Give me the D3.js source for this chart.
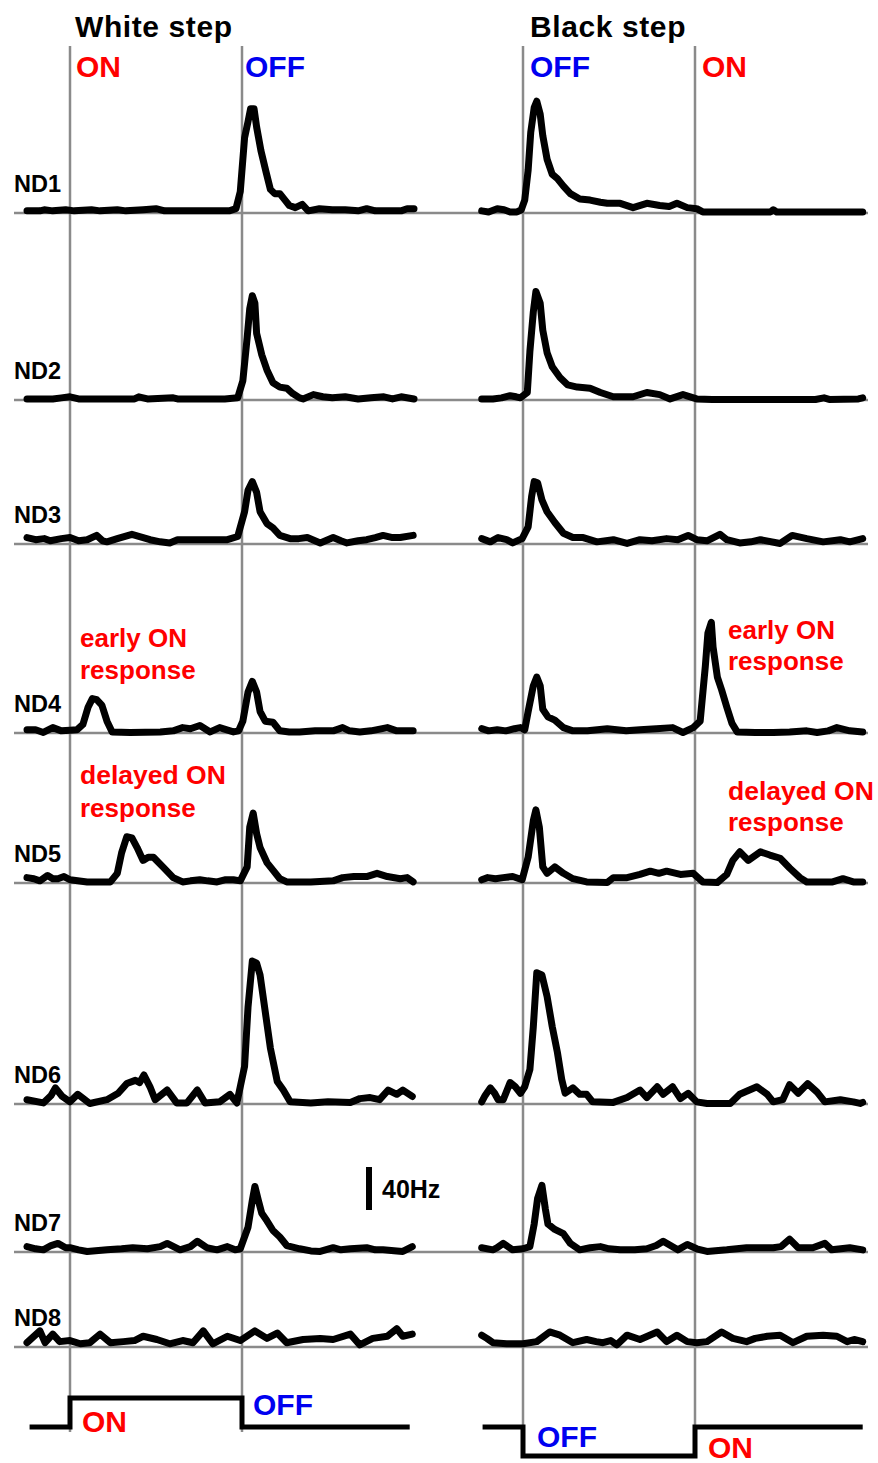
<!DOCTYPE html>
<html>
<head>
<meta charset="utf-8">
<script src="https://cdn.jsdelivr.net/npm/d3@7"></script>
<style>
  body { margin: 0; background: #fff; }
  text { font-family: "Liberation Sans", Arial, Helvetica, sans-serif; font-weight: bold; }
</style>
</head>
<body>
<svg id="chart" width="878" height="1463"></svg>
<script>
// Firing rate (Hz) vs time (s) after step onset; step lasts 0–2 s.
const rowLabels = ["ND1", "ND2", "ND3", "ND4", "ND5", "ND6", "ND7", "ND8"];

// White step (ON at 0 s, OFF at 2 s): [time s, rate Hz]
const whiteND1 = [[-0.5,2],[-0.35,2],[-0.3,3],[-0.2,2],[-0.05,3],[0.05,2],[0.25,3],[0.35,2],[0.55,3],[0.65,2],[0.85,3],[1.0,4],[1.1,2],[1.3,2],[1.6,2],[1.85,2],[1.93,4],[1.98,20],[2.03,70],[2.07,85],[2.1,97],[2.14,97],[2.17,80],[2.22,58],[2.28,38],[2.33,22],[2.38,18],[2.44,18],[2.5,12],[2.55,7],[2.62,5],[2.7,8],[2.77,2],[2.9,4],[3.05,3],[3.2,3],[3.35,2],[3.45,4],[3.55,2],[3.7,2],[3.85,2],[3.92,4],[4.0,4]];
const whiteND2 = [[-0.5,1],[-0.2,1],[-0.1,2],[0,3],[0.1,1],[0.5,1],[0.75,1],[0.8,3],[0.9,1],[1.2,2],[1.25,1],[1.5,1],[1.8,1],[1.95,2],[2.01,18],[2.06,58],[2.09,85],[2.12,97],[2.15,90],[2.17,62],[2.23,42],[2.29,28],[2.36,16],[2.44,12],[2.52,11],[2.59,6],[2.67,2],[2.71,1],[2.83,5],[2.94,3],[3.05,2],[3.2,3],[3.35,1],[3.5,2],[3.65,3],[3.75,1],[3.85,3],[4.0,1]];
const whiteND3 = [[-0.5,6],[-0.4,4],[-0.3,5],[-0.23,3],[-0.1,5],[0,6],[0.1,3],[0.2,4],[0.31,8],[0.38,3],[0.43,2],[0.55,5],[0.72,9],[0.85,6],[0.93,4],[1.05,2],[1.16,1],[1.25,4],[1.36,4],[1.5,4],[1.65,4],[1.83,4],[1.95,7],[2.03,30],[2.07,50],[2.12,58],[2.17,48],[2.21,30],[2.29,19],[2.36,15],[2.44,8],[2.56,5],[2.66,5],[2.76,6],[2.91,1],[3.06,6],[3.15,3],[3.22,1],[3.35,3],[3.45,4],[3.55,6],[3.64,8],[3.75,6],[3.84,6],[3.99,8]];
const whiteND4 = [[-0.5,3],[-0.4,3],[-0.31,0.5],[-0.2,5],[-0.1,2],[0,2.5],[0.08,3],[0.15,8],[0.21,24],[0.26,32],[0.31,31],[0.37,26],[0.43,11],[0.49,1],[0.7,0.5],[1.05,1],[1.2,2],[1.31,5],[1.4,4],[1.51,7],[1.63,1],[1.74,5],[1.9,1],[1.96,2],[2.01,11],[2.07,38],[2.12,48],[2.17,38],[2.21,20],[2.27,11],[2.36,10],[2.44,2],[2.55,1],[2.67,1],[2.85,2],[3.06,2],[3.17,5],[3.25,2],[3.37,1],[3.5,2],[3.69,5],[3.8,2],[3.99,2]];
const whiteND5 = [[-0.5,5],[-0.42,4],[-0.35,2],[-0.26,7],[-0.2,4],[-0.14,4],[-0.07,6],[0,3],[0.2,1],[0.47,1],[0.55,9],[0.6,28],[0.66,43],[0.72,42],[0.78,33],[0.85,21],[0.91,24],[0.97,24],[1.08,15],[1.2,5],[1.31,1],[1.4,2],[1.51,3],[1.6,2],[1.71,1],[1.8,3],[1.9,3],[1.98,2],[2.06,15],[2.09,52],[2.13,65],[2.17,46],[2.21,33],[2.29,19],[2.36,12],[2.44,4],[2.52,1],[2.8,1],[3.06,2],[3.17,5],[3.3,6],[3.45,6],[3.57,9],[3.69,6],[3.84,4],[3.92,5],[3.99,1]];
const whiteND6 = [[-0.5,4],[-0.31,1],[-0.22,8],[-0.17,15],[-0.09,7],[0,2],[0.09,9],[0.23,0.5],[0.43,4],[0.56,10],[0.66,19],[0.76,22],[0.81,20],[0.86,27],[0.93,16],[0.99,4],[1.13,13],[1.24,1],[1.36,1],[1.48,13],[1.57,1],[1.74,2],[1.86,9],[1.94,1],[2.03,35],[2.07,90],[2.12,133],[2.17,131],[2.21,120],[2.27,86],[2.33,52],[2.41,21],[2.48,13],[2.56,2],[2.8,1],[3.0,2],[3.26,1.5],[3.37,5],[3.49,6],[3.6,4],[3.7,13],[3.8,9],[3.87,13],[3.98,7]];
const whiteND7 = [[-0.5,5],[-0.4,3],[-0.31,2],[-0.22,6],[-0.14,8],[-0.05,4],[0,4],[0.1,2],[0.2,0.5],[0.43,2],[0.6,3],[0.73,4],[0.9,3],[1.05,5],[1.13,8],[1.28,2],[1.4,5],[1.48,10],[1.59,4],[1.71,2],[1.83,5],[1.92,2],[1.98,3],[2.07,23],[2.12,48],[2.15,61],[2.19,48],[2.23,36],[2.29,29],[2.36,20],[2.44,14],[2.52,6],[2.67,3],[2.8,1],[2.91,0.5],[3.06,4],[3.15,2],[3.26,3],[3.45,4],[3.55,2],[3.64,2],[3.8,1],[3.87,0.5],[3.98,5]];
const whiteND8 = [[-0.5,4],[-0.35,15],[-0.29,4],[-0.2,12],[-0.12,5],[0,6],[0.12,3],[0.23,4],[0.35,12],[0.47,4],[0.62,5],[0.75,6],[0.85,10],[1.01,7],[1.16,3],[1.31,6],[1.43,4],[1.55,15],[1.66,3],[1.83,10],[1.98,6],[2.15,15],[2.29,8],[2.41,13],[2.52,4],[2.71,7],[2.91,8],[3.06,7],[3.26,12],[3.37,2],[3.52,8],[3.69,10],[3.8,17],[3.87,10],[3.98,12]];

// Black step (OFF at 0 s, ON at 2 s): [time s, rate Hz]
const blackND1 = [[-0.48,2],[-0.4,1],[-0.3,4],[-0.22,3],[-0.15,1],[-0.07,1],[-0.02,3],[0.02,12],[0.06,40],[0.09,75],[0.13,98],[0.16,104],[0.2,92],[0.23,72],[0.28,50],[0.34,36],[0.4,32],[0.47,25],[0.55,18],[0.66,13],[0.78,12],[0.9,10],[0.98,9],[1.13,9],[1.28,5],[1.44,9],[1.59,7],[1.7,6],[1.79,9],[1.91,5],[2.02,4],[2.09,1],[2.3,1],[2.6,1],[2.88,1],[2.91,3],[2.95,1],[3.5,1],[3.95,1]];
const blackND2 = [[-0.48,1],[-0.35,1],[-0.25,2],[-0.15,4],[-0.08,3],[-0.03,2],[0.05,7],[0.08,45],[0.12,82],[0.15,101],[0.2,90],[0.23,65],[0.28,44],[0.34,31],[0.43,21],[0.52,14],[0.63,12],[0.78,11],[0.9,7],[1.05,3],[1.28,3],[1.44,7],[1.59,5],[1.71,1],[1.86,5],[2.02,1],[2.2,0.5],[2.8,0.5],[3.4,0.5],[3.5,2],[3.56,0.5],[3.9,1],[3.95,2]];
const blackND3 = [[-0.48,5],[-0.38,2],[-0.29,6],[-0.19,4],[-0.12,1],[-0.01,5],[0.06,16],[0.1,44],[0.13,58],[0.17,57],[0.22,41],[0.28,30],[0.37,20],[0.47,10],[0.58,6],[0.7,6],[0.86,2],[1.05,4],[1.21,0.5],[1.36,4],[1.5,3],[1.67,5],[1.8,4],[1.92,8],[2.02,4],[2.14,3],[2.29,9],[2.37,4],[2.52,1],[2.65,2],[2.76,4],[2.99,0.5],[3.13,8],[3.3,5],[3.49,2],[3.69,4],[3.8,2],[3.95,5]];
const blackND4 = [[-0.48,4],[-0.4,2],[-0.3,3],[-0.2,2],[-0.1,4],[-0.03,5],[0.02,3],[0.06,20],[0.12,44],[0.16,52],[0.2,44],[0.23,22],[0.29,15],[0.37,12],[0.47,5],[0.58,2],[0.75,2],[0.98,4],[1.2,2],[1.36,3],[1.55,4],[1.74,5],[1.86,0.5],[1.98,5],[2.06,11],[2.12,62],[2.15,93],[2.19,103],[2.21,80],[2.26,52],[2.31,40],[2.37,24],[2.43,9],[2.49,1],[2.7,0.5],[2.91,0.5],[3.1,1],[3.3,2],[3.42,0.5],[3.55,2],[3.65,5],[3.8,2],[3.95,1]];
const blackND5 = [[-0.48,3],[-0.41,5],[-0.32,4],[-0.23,5],[-0.12,6],[-0.01,3],[0.06,24],[0.12,58],[0.15,68],[0.19,52],[0.23,15],[0.28,9],[0.37,15],[0.47,9],[0.58,4],[0.74,1],[0.98,0.5],[1.05,5],[1.21,5],[1.36,8],[1.48,11],[1.58,9],[1.67,11],[1.83,8],[1.98,9],[2.09,1],[2.26,0.5],[2.37,8],[2.44,21],[2.52,29],[2.62,21],[2.76,29],[2.87,26],[2.99,23],[3.1,14],[3.22,5],[3.3,1],[3.6,1],[3.72,4],[3.84,1],[3.95,1]];
const blackND6 = [[-0.48,2],[-0.44,8],[-0.38,15],[-0.33,10],[-0.29,4],[-0.23,4],[-0.15,20],[-0.09,16],[-0.03,10],[0.02,16],[0.08,32],[0.12,72],[0.16,122],[0.22,120],[0.28,100],[0.34,72],[0.4,48],[0.45,23],[0.49,10],[0.58,15],[0.66,9],[0.74,9],[0.81,2],[1.05,1.5],[1.21,6],[1.36,13],[1.44,6],[1.56,16],[1.63,9],[1.74,16],[1.83,5],[1.92,10],[2.02,2],[2.14,0.5],[2.41,0.5],[2.52,9],[2.72,16],[2.84,9],[2.91,2],[3.02,4],[3.1,18],[3.2,10],[3.31,19],[3.42,11],[3.51,2],[3.69,4],[3.84,2],[3.92,0.5],[3.95,1.5]];
const blackND7 = [[-0.48,4],[-0.35,2],[-0.3,4],[-0.23,8],[-0.12,2],[0,3],[0.08,5],[0.13,26],[0.17,50],[0.22,62],[0.26,40],[0.29,26],[0.37,21],[0.47,17],[0.55,8],[0.66,2],[0.78,4],[0.9,5],[1.0,3],[1.13,2],[1.3,2],[1.44,3],[1.55,6],[1.63,10],[1.8,2],[1.91,7],[2.02,3],[2.14,0.5],[2.37,2],[2.6,4],[2.91,4],[3.0,5],[3.1,12],[3.2,4],[3.37,4],[3.51,8],[3.59,2],[3.8,4],[3.95,2]];
const blackND8 = [[-0.48,11],[-0.42,8],[-0.35,4],[-0.19,3],[0,3],[0.16,5],[0.31,14],[0.43,11],[0.58,4],[0.74,7],[0.85,5],[0.93,4],[1.02,6],[1.09,2],[1.21,11],[1.36,7],[1.56,14],[1.67,5],[1.79,11],[1.91,5],[2.02,4],[2.14,5],[2.31,14],[2.44,8],[2.6,5],[2.7,8],[2.84,10],[2.99,11],[3.14,4],[3.3,10],[3.49,11],[3.65,10],[3.77,5],[3.85,7],[3.95,5]];

// Stimulus timecourse: light level relative to background
const stimTimes  = [-0.47, 0, 0, 2, 2, 3.95];
const whiteLevel = [0, 0, 1, 1, 0, 0];
const blackLevel = [0, 0, -1, -1, 0, 0];

const scaleBarHz = 40;

// Layout
const rowBaselines = [213, 400, 544, 733, 883, 1104, 1252, 1347];
const stimBaseline = 1427;

const whiteTraces = [whiteND1, whiteND2, whiteND3, whiteND4, whiteND5, whiteND6, whiteND7, whiteND8];
const blackTraces = [blackND1, blackND2, blackND3, blackND4, blackND5, blackND6, blackND7, blackND8];
const rows = rowLabels.map((label, i) => ({ label, white: whiteTraces[i], black: blackTraces[i], y: rowBaselines[i] }));

const svg = d3.select("#chart");
const RED = "#ff0000", BLUE = "#0000f0", GRID = "#8a8a8a";

const xWhite = d3.scaleLinear().domain([0, 2]).range([70, 242]);
const xBlack = d3.scaleLinear().domain([0, 2]).range([523, 695]);
const yRate = d3.scaleLinear().domain([0, 40]).range([0, -43]);
const yStim = d3.scaleLinear().domain([0, 1]).range([0, -29]);

// Horizontal zero lines per row
svg.append("g").selectAll("line").data(rows).join("line")
  .attr("x1", 14).attr("x2", 868)
  .attr("y1", d => d.y).attr("y2", d => d.y)
  .attr("stroke", GRID).attr("stroke-width", 2.5);

// Vertical step-transition lines
const vlines = [
  { x: xWhite(0), y2: 1432 }, { x: xWhite(2), y2: 1432 },
  { x: xBlack(0), y2: 1455 }, { x: xBlack(2), y2: 1455 }
];
svg.append("g").selectAll("line").data(vlines).join("line")
  .attr("x1", d => d.x).attr("x2", d => d.x)
  .attr("y1", 46).attr("y2", d => d.y2)
  .attr("stroke", GRID).attr("stroke-width", 2.5);

// Rate traces
function drawTraces(key, x) {
  const line = d3.line().x(d => x(d[0])).y(d => yRate(d[1]));
  svg.append("g").selectAll("path").data(rows).join("path")
    .attr("transform", d => `translate(0,${d.y})`)
    .attr("d", d => line(d[key]))
    .attr("fill", "none").attr("stroke", "#000").attr("stroke-width", 7)
    .attr("stroke-linejoin", "round").attr("stroke-linecap", "round");
}
drawTraces("white", xWhite);
drawTraces("black", xBlack);

// Row labels
svg.append("g").selectAll("text").data(rows).join("text")
  .attr("x", 14).attr("y", d => d.y - 21)
  .attr("font-size", 23.5).attr("fill", "#000")
  .text(d => d.label);

// Stimulus steps
function drawStim(levels, x) {
  const pts = stimTimes.map((t, i) => [t, levels[i]]);
  svg.append("path")
    .attr("transform", `translate(0,${stimBaseline})`)
    .attr("d", d3.line().x(d => x(d[0])).y(d => yStim(d[1]))(pts))
    .attr("fill", "none").attr("stroke", "#000").attr("stroke-width", 5)
    .attr("stroke-linejoin", "miter");
}
drawStim(whiteLevel, xWhite);
drawStim(blackLevel, xBlack);

// Scale bar
const sb = svg.append("g").attr("transform", "translate(369,1210)");
sb.append("line").attr("x1", 0).attr("x2", 0).attr("y1", 0).attr("y2", yRate(scaleBarHz))
  .attr("stroke", "#000").attr("stroke-width", 6);
sb.append("text").attr("x", 13).attr("y", -12).attr("font-size", 25).attr("fill", "#000")
  .text(scaleBarHz + "Hz");

// Text labels
const labels = [
  { t: "White step", x: 75, y: 37, size: 30, c: "#000", ls: 0.6 },
  { t: "Black step", x: 530, y: 37, size: 30, c: "#000", ls: 0.6 },
  { t: "ON", x: 76, y: 77, size: 30, c: RED },
  { t: "OFF", x: 245, y: 77, size: 30, c: BLUE },
  { t: "OFF", x: 530, y: 77, size: 30, c: BLUE },
  { t: "ON", x: 702, y: 77, size: 30, c: RED },
  { t: "early ON", x: 80, y: 647, size: 26, c: RED },
  { t: "response", x: 80, y: 679, size: 26, c: RED },
  { t: "early ON", x: 728, y: 639, size: 26, c: RED },
  { t: "response", x: 728, y: 670, size: 26, c: RED },
  { t: "delayed ON", x: 80, y: 784, size: 26.5, c: RED },
  { t: "response", x: 80, y: 817, size: 26, c: RED },
  { t: "delayed ON", x: 728, y: 800, size: 26.5, c: RED },
  { t: "response", x: 728, y: 831, size: 26, c: RED },
  { t: "ON", x: 82, y: 1432, size: 30, c: RED },
  { t: "OFF", x: 253, y: 1415, size: 30, c: BLUE },
  { t: "OFF", x: 537, y: 1447, size: 30, c: BLUE },
  { t: "ON", x: 708, y: 1458, size: 30, c: RED }
];
svg.append("g").selectAll("text").data(labels).join("text")
  .attr("x", d => d.x).attr("y", d => d.y)
  .attr("font-size", d => d.size).attr("fill", d => d.c)
  .attr("letter-spacing", d => d.ls || 0)
  .text(d => d.t);
</script>
</body>
</html>
